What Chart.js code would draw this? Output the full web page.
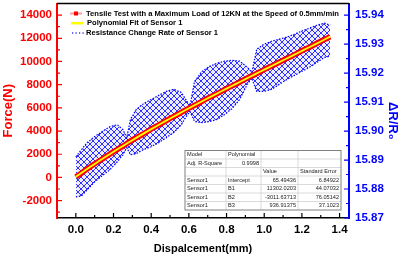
<!DOCTYPE html>
<html>
<head>
<meta charset="utf-8">
<script src="https://cdn.jsdelivr.net/npm/chart.js@4.4.1/dist/chart.umd.min.js"></script>
<style>
  html, body { margin: 0; padding: 0; background: #fff; }
  #wrap { width: 401px; height: 256px; }
</style>
</head>
<body>
<div id="wrap"><canvas id="tensileChart" width="401" height="256"></canvas></div>
<script>
// displacement (mm) where the load curve was read
const dispX = [0, 0.05, 0.1, 0.15, 0.2, 0.25, 0.3, 0.35, 0.4, 0.45, 0.5, 0.55, 0.6, 0.65,
  0.7, 0.75, 0.8, 0.85, 0.9, 0.95, 1.0, 1.05, 1.1, 1.15, 1.2, 1.25, 1.3, 1.35];
const loadMeasured = [40, 610, 1180, 1690, 2220, 2700, 3230, 3680, 4170, 4610, 5090, 5510, 5980, 6380,
  6840, 7230, 7670, 8060, 8490, 8880, 9300, 9690, 10110, 10490, 10920, 11310, 11740, 12130];
const loadFit = [65, 623, 1167, 1696, 2213, 2717, 3210, 3692, 4164, 4627, 5081, 5526, 5965, 6397,
  6823, 7243, 7659, 8072, 8481, 8888, 9293, 9697, 10101, 10505, 10910, 11317, 11727, 12140];

// resistance change rate: upper / lower edge of the blue cloud
const bandX = [0.00, 0.03, 0.06, 0.10, 0.14, 0.18, 0.22, 0.25, 0.27, 0.29, 0.32, 0.36, 0.40, 0.44,
  0.48, 0.52, 0.56, 0.59, 0.606, 0.63, 0.67, 0.71, 0.75, 0.79, 0.83, 0.87, 0.91, 0.934, 0.96, 1.00,
  1.04, 1.08, 1.12, 1.16, 1.20, 1.24, 1.28, 1.32, 1.35];
const bandUpper = [15.8911, 15.8936, 15.8960, 15.8981, 15.8998, 15.9015, 15.9022, 15.9005, 15.8977,
  15.9040, 15.9074, 15.9095, 15.9109, 15.9123, 15.9137, 15.9144, 15.9133, 15.9102, 15.9088, 15.9171,
  15.9206, 15.9223, 15.9234, 15.9241, 15.9244, 15.9241, 15.9220, 15.9203, 15.9282, 15.9300, 15.9310,
  15.9317, 15.9324, 15.9334, 15.9345, 15.9355, 15.9365, 15.9372, 15.9365];
const bandLower = [15.8773, 15.8776, 15.8797, 15.8825, 15.8846, 15.8866, 15.8894, 15.8918, 15.8943,
  15.8918, 15.8922, 15.8936, 15.8946, 15.8960, 15.8977, 15.8995, 15.9022, 15.9054, 15.9067, 15.9033,
  15.9029, 15.9033, 15.9040, 15.9057, 15.9078, 15.9109, 15.9161, 15.9182, 15.9137, 15.9137, 15.9144,
  15.9161, 15.9178, 15.9192, 15.9206, 15.9220, 15.9237, 15.9254, 15.9258];

// axis ticks
const forceTicks = [-2000, 0, 2000, 4000, 6000, 8000, 10000, 12000, 14000];
const forceMinor = [-3000, -1000, 1000, 3000, 5000, 7000, 9000, 11000, 13000];
const ratioTicks = [15.87, 15.88, 15.89, 15.90, 15.91, 15.92, 15.93, 15.94];
const ratioMinor = [15.875, 15.885, 15.895, 15.905, 15.915, 15.925, 15.935];
const dispTicks = [0, 0.2, 0.4, 0.6, 0.8, 1.0, 1.2, 1.4];
const dispMinor = [0.1, 0.3, 0.5, 0.7, 0.9, 1.1, 1.3];

// fit report table
const fitTable = [
  ["Model", "Polynomial", "", ""],
  ["Adj. R-Square", "0.9998", "", ""],
  ["", "", "Value", "Standard Error"],
  ["Sensor1", "Intercept", "65.49436", "6.84922"],
  ["Sensor1", "B1", "11302.0203", "44.07032"],
  ["Sensor1", "B2", "-3011.63713", "76.05142"],
  ["Sensor1", "B3", "936.91375", "37.1023"],
];

const FONT = "'Liberation Sans', Arial, sans-serif";
const RATIO_TITLE = "ΔR/R₀";

function toPoints(xs, ys) {
  return xs.map((x, i) => ({ x: x, y: ys[i] }));
}

function makeBandPattern() {
  const c = document.createElement("canvas");
  c.width = 6;
  c.height = 6;
  const g = c.getContext("2d");
  g.fillStyle = "rgba(120, 130, 255, 0.14)";
  g.fillRect(0, 0, 6, 6);
  g.fillStyle = "#3030ff";
  for (let i = 0; i < 6; i++) {
    g.fillRect(i, i, 1, 1);
    g.fillRect(i, 5 - i, 1, 1);
  }
  return g.createPattern(c, "repeat");
}

// no automatic label padding: the plot box is fixed
function noPadding(s) {
  s.paddingTop = 0;
  s.paddingBottom = 0;
  s.paddingLeft = 0;
  s.paddingRight = 0;
}

// inward tick marks, top frame, legend, right title and the fit table
const decorPlugin = {
  id: "decor",
  afterDraw(chart) {
    const ctx = chart.ctx;
    const area = chart.chartArea;
    const sx = chart.scales.x, sy = chart.scales.y, sy1 = chart.scales.y1;
    ctx.save();

    // top frame
    ctx.strokeStyle = "#000";
    ctx.lineWidth = 1.5;
    ctx.beginPath();
    ctx.moveTo(area.left, area.top);
    ctx.lineTo(area.right, area.top);
    ctx.stroke();

    ctx.lineWidth = 1.2;
    ctx.strokeStyle = "#ff0000";
    ctx.beginPath();
    forceTicks.forEach(v => { const y = sy.getPixelForValue(v); ctx.moveTo(area.left, y); ctx.lineTo(area.left + 5, y); });
    forceMinor.forEach(v => { const y = sy.getPixelForValue(v); ctx.moveTo(area.left, y); ctx.lineTo(area.left + 3, y); });
    ctx.stroke();

    ctx.strokeStyle = "#0000ff";
    ctx.beginPath();
    ratioTicks.forEach(v => { const y = sy1.getPixelForValue(v); ctx.moveTo(area.right, y); ctx.lineTo(area.right - 5, y); });
    ratioMinor.forEach(v => { const y = sy1.getPixelForValue(v); ctx.moveTo(area.right, y); ctx.lineTo(area.right - 3, y); });
    ctx.stroke();

    ctx.strokeStyle = "#000";
    ctx.beginPath();
    dispTicks.forEach(v => { const x = sx.getPixelForValue(v); ctx.moveTo(x, area.bottom); ctx.lineTo(x, area.bottom - 5); });
    dispMinor.forEach(v => { const x = sx.getPixelForValue(v); ctx.moveTo(x, area.bottom); ctx.lineTo(x, area.bottom - 3); });
    ctx.stroke();

    // right axis title, a little below the middle as in the source figure
    ctx.save();
    ctx.translate(sy1.right - 8, (area.top + area.bottom) / 2 + 10);
    ctx.rotate(Math.PI / 2);
    ctx.font = "bold 13px " + FONT;
    ctx.fillStyle = "#0000ff";
    ctx.textAlign = "center";
    ctx.textBaseline = "middle";
    ctx.fillText(RATIO_TITLE, 0, 0);
    ctx.restore();

    // legend
    ctx.font = "bold 7.6px " + FONT;
    ctx.textBaseline = "middle";
    ctx.textAlign = "left";
    const lx = area.left + 13;
    const legendRows = chart.data.datasets
      .filter(d => d.legendRank)
      .sort((a, b) => a.legendRank - b.legendRank);
    legendRows.forEach((d, i) => {
      const y = area.top + 10 + i * 9.7;
      if (d.legendRank === 1) {
        ctx.strokeStyle = "#ff9a9a";
        ctx.lineWidth = 2;
        ctx.beginPath(); ctx.moveTo(lx, y); ctx.lineTo(lx + 12, y); ctx.stroke();
        ctx.fillStyle = "#ff0000";
        ctx.fillRect(lx + 4, y - 2, 4, 4);
      } else if (d.legendRank === 2) {
        ctx.strokeStyle = "#ffff00";
        ctx.lineWidth = 2.5;
        ctx.beginPath(); ctx.moveTo(lx + 1, y); ctx.lineTo(lx + 13, y); ctx.stroke();
      } else {
        ctx.fillStyle = "#0000ff";
        for (let k = 0; k < 4; k++) ctx.fillRect(lx + 2 + k * 3.5, y - 0.5, 1.2, 1.2);
      }
      ctx.fillStyle = "#000";
      ctx.fillText(d.label, lx + 16 + (d.legendRank === 2 ? 1 : 0), y);
    });

    // table
    const colW = [41, 35, 37, 43];
    const rowH = 8.5;
    const tx = 185, ty = 150.5;
    const tw = colW.reduce((a, b) => a + b, 0);
    const th = rowH * fitTable.length;
    ctx.fillStyle = "#fff";
    ctx.fillRect(tx, ty, tw, th);
    ctx.strokeStyle = "#d0d0d0";
    ctx.lineWidth = 0.8;
    ctx.beginPath();
    for (let r = 1; r < fitTable.length; r++) { ctx.moveTo(tx, ty + r * rowH); ctx.lineTo(tx + tw, ty + r * rowH); }
    let cx = tx;
    for (let c = 0; c < colW.length - 1; c++) { cx += colW[c]; ctx.moveTo(cx, ty); ctx.lineTo(cx, ty + th); }
    ctx.stroke();
    ctx.strokeStyle = "#808080";
    ctx.lineWidth = 1;
    ctx.strokeRect(tx, ty, tw, th);

    ctx.font = "5.6px " + FONT;
    ctx.fillStyle = "#222";
    fitTable.forEach((row, r) => {
      const y = ty + r * rowH + rowH / 2;
      let x0 = tx;
      row.forEach((txt, c) => {
        const numeric = /^-?[0-9.]+$/.test(txt);
        if (numeric) {
          ctx.textAlign = "right";
          ctx.fillText(txt, x0 + colW[c] - 2, y);
        } else {
          ctx.textAlign = "left";
          ctx.fillText(txt, x0 + 2, y);
        }
        x0 += colW[c];
      });
    });
    ctx.restore();
  },
};

const tickFont = { family: FONT, size: 11.5, weight: "bold" };

new Chart(document.getElementById("tensileChart"), {
  type: "line",
  data: {
    datasets: [
      {
        label: "Polynomial Fit of Sensor 1",
        legendRank: 2,
        data: toPoints(dispX, loadFit),
        yAxisID: "y",
        borderColor: "#ffff00",
        borderWidth: 1.8,
        pointRadius: 0,
        tension: 0.3,
        order: 0,
      },
      {
        label: "Tensile Test with a Maximum Load of 12KN at the Speed of 0.5mm/min",
        legendRank: 1,
        data: toPoints(dispX, loadMeasured),
        yAxisID: "y",
        borderColor: "#ff0000",
        borderWidth: 5.5,
        pointRadius: 0,
        tension: 0.3,
        order: 1,
      },
      {
        label: "Resistance Change Rate of Sensor 1",
        legendRank: 3,
        data: toPoints(bandX, bandUpper),
        yAxisID: "y1",
        borderColor: "#0000ff",
        borderWidth: 1.2,
        borderDash: [1.5, 1.5],
        pointRadius: 0,
        fill: false,
        order: 2,
      },
      {
        label: "band lower",
        data: toPoints(bandX, bandLower),
        yAxisID: "y1",
        borderColor: "#0000ff",
        borderWidth: 1.2,
        borderDash: [1.5, 1.5],
        backgroundColor: makeBandPattern(),
        pointRadius: 0,
        fill: "-1",
        order: 3,
      },
    ],
  },
  options: {
    responsive: false,
    animation: false,
    layout: { padding: { top: 3.5, left: 0, right: 0, bottom: 0 } },
    plugins: {
      legend: { display: false },
      tooltip: { enabled: false },
    },
    scales: {
      x: {
        type: "linear",
        position: "bottom",
        min: -0.1,
        max: 1.45,
        afterBuildTicks: (s) => { s.ticks = dispTicks.map(v => ({ value: v })); },
        afterFit: (s) => { s.height = 38; noPadding(s); },
        grid: { display: false, drawTicks: false },
        border: { display: true, color: "#000", width: 1.5 },
        ticks: {
          color: "#000",
          font: tickFont,
          padding: 5,
          maxRotation: 0,
          autoSkip: false,
          callback: (v) => Number(v).toFixed(1),
        },
        title: {
          display: true,
          text: "Dispalcement(mm)",
          color: "#000",
          font: { family: FONT, size: 11, weight: "bold" },
          padding: 0,
        },
      },
      y: {
        type: "linear",
        position: "left",
        min: -3500,
        max: 15000,
        afterBuildTicks: (s) => { s.ticks = forceTicks.map(v => ({ value: v })); },
        afterFit: (s) => { s.width = 57; noPadding(s); },
        grid: { display: false, drawTicks: false },
        border: { display: true, color: "#ff0000", width: 2 },
        ticks: { color: "#ff0000", font: tickFont, padding: 5, callback: (v) => String(v) },
        title: {
          display: true,
          text: "Force(N)",
          color: "#ff0000",
          font: { family: FONT, size: 13, weight: "bold" },
          padding: { top: 1, bottom: 0 },
        },
      },
      y1: {
        type: "linear",
        position: "right",
        min: 15.87,
        max: 15.944,
        afterBuildTicks: (s) => { s.ticks = ratioTicks.map(v => ({ value: v })); },
        afterFit: (s) => { s.width = 52; noPadding(s); },
        grid: { display: false, drawTicks: false },
        border: { display: true, color: "#0000ff", width: 2 },
        ticks: { color: "#0000ff", font: tickFont, padding: 6, callback: (v) => Number(v).toFixed(2) },
        title: { display: false },
      },
    },
  },
  plugins: [decorPlugin],
});
</script>
</body>
</html>
